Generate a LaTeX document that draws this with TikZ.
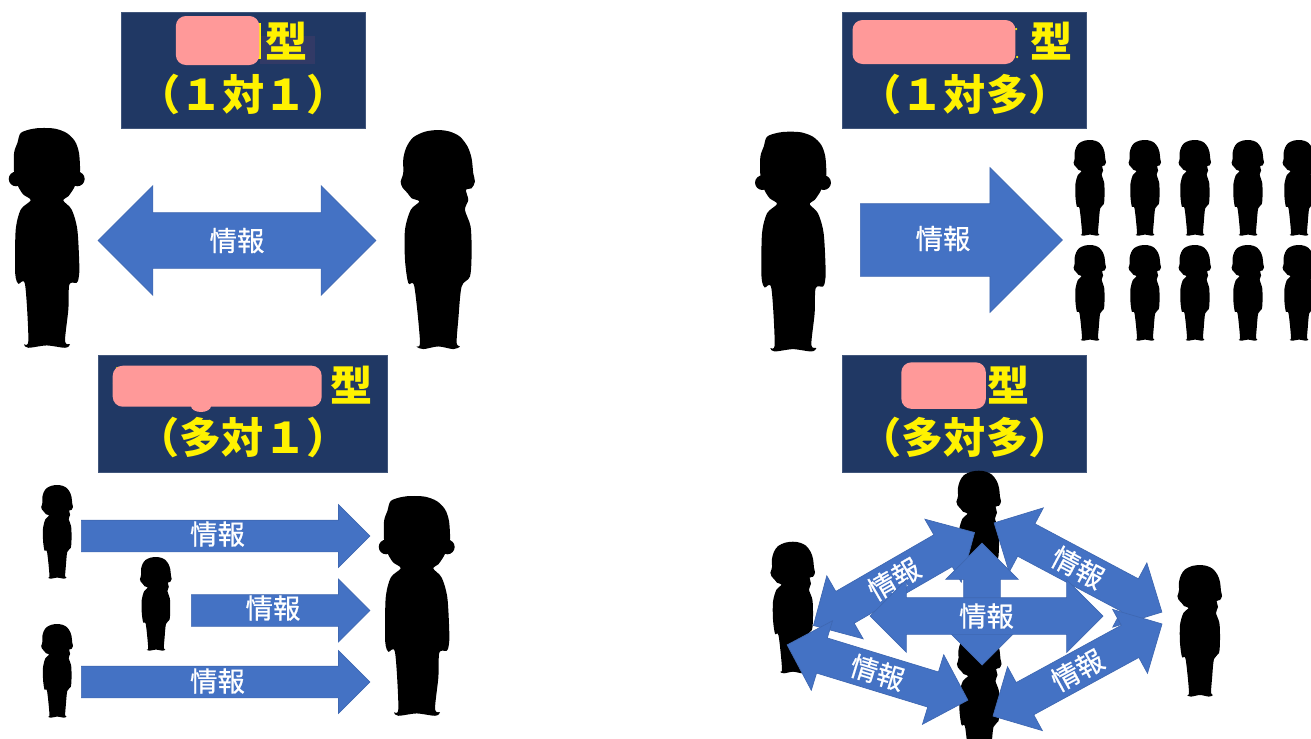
\documentclass[tikz,border=0pt]{standalone}
\usepackage{fontspec}
\usepackage{xcolor}
\usepackage{tikz}
\usetikzlibrary{positioning,shapes}
\newfontfamily\jpfont[FakeBold=0.7]{Noto Sans CJK JP}
\newfontfamily\jptitle{Noto Sans CJK JP}

\definecolor{titlenavy}{HTML}{203864}
\definecolor{flowblue}{HTML}{4472C4}
\definecolor{flowedge}{HTML}{3F68B2}
\definecolor{redactpink}{HTML}{FF9999}
\definecolor{patchnavy}{HTML}{323A66}

\newcommand{\flowlabel}{\raisebox{-0.38em}[0pt][0pt]{情報}}

\tikzset{
  titlebox/.style = {fill = titlenavy, draw = titlenavy!85!white, line width = 0.3pt, inner sep = 0pt},
  titletext/.style = {text = yellow, inner sep = 0pt, font = \jptitle\bfseries\fontsize{24}{24}\selectfont},
  redact/.style = {fill = redactpink, rounded corners = 0.2cm, inner sep = 0pt},
  speck/.style = {fill = yellow, circle, minimum size = 0.05cm, inner sep = 0pt},
  flowtext/.style = {text = white, inner sep = 0pt, font = \jpfont\fontsize{15.6}{16}\selectfont},
  oneway/.style = {single arrow, anchor = tail, fill = flowblue, draw = flowedge, line width = 0.4pt, inner sep = 0pt},
  twoway/.style = {double arrow, fill = flowblue, draw = flowedge, line width = 0.4pt, inner sep = 0pt, text = white, font = \jpfont\fontsize{15.6}{16}\selectfont},
  bigway/.style = {twoway, minimum width = 1.44cm, double arrow head extend = 0.36cm, inner ysep = 0.36cm},
  smallway/.style = {oneway, minimum width = 1.24cm, single arrow head extend = 0.31cm, inner ysep = 0.31cm},
  pics/frontman/.style = {code = {
    \fill[black] (-92,153) circle (22);
    \fill[black] (92,153) circle (22);
    \fill[black] plot[smooth cycle, tension = 0.5] coordinates {
      (-15,0) (25,2) (60,15) (85,40) (97,75) (100,130) (92,155) (82,180) (65,205) (50,218)
      (75,245) (92,305) (98,415) (96,450) (90,465) (68,470) (65,545) (55,640) (70,650) (55,660) (0,653)
      (-55,660) (-68,650) (-55,637) (-65,470) (-85,468) (-93,450) (-95,415) (-93,305) (-78,245) (-48,217)
      (-70,200) (-85,177) (-92,155) (-98,133) (-98,75) (-88,45) (-78,15) (-45,3)
    };
  }},
  pics/sideman/.style = {code = {
    \fill[black] plot[smooth cycle, tension = 0.5] coordinates {
      (0,0) (35,5) (65,20) (88,50) (100,85) (105,130) (110,155) (100,175) (83,180) (90,210) (80,240) (97,290)
      (100,370) (95,440) (70,470) (60,570) (55,640) (65,650) (45,658) (0,650) (-45,658) (-65,650)
      (-55,635) (-72,470) (-90,460) (-100,390) (-100,300) (-83,240) (-57,215) (-80,205) (-92,190)
      (-108,172) (-113,155) (-108,140) (-105,125) (-105,85) (-95,50) (-75,22) (-40,5)
    };
  }}
}

\begin{document}
\begin{tikzpicture}[x = 0.02cm, y = -0.02cm]
  \useasboundingbox (0, 0) rectangle (1311, 738);

  \node[titlebox, minimum width = 4.87cm, minimum height = 2.33cm] (box1) at (243.2, 70.4){};
  \node[titlebox, minimum width = 4.88cm, minimum height = 2.33cm] (box2) at (964.3, 70.4){};
  \node[titlebox, minimum width = 5.78cm, minimum height = 2.35cm] (box3) at (242.8, 414){};
  \node[titlebox, minimum width = 4.88cm, minimum height = 2.35cm] (box4) at (964.3, 414){};

  \node[fill = patchnavy, minimum width = 1.1cm, minimum height = 0.56cm, inner sep = 0pt] (patch1) at (287.5, 50){};

  \node[titletext] (kind1) at (286.3, 41){型};
  \node[titletext] (kind2) at (1052, 41){型};
  \node[titletext] (kind3) at (352, 385){型};
  \node[titletext] (kind4) at (1008.3, 385){型};

  \node[titletext] (ratio1) at (243.5, 94){（１対１）};
  \node[titletext] (ratio2) at (965, 94){（１対多）};
  \node[titletext] (ratio3) at (243, 437){（多対１）};
  \node[titletext] (ratio4) at (965, 437){（多対多）};

  \node[fill = yellow, minimum width = 0.07cm, minimum height = 0.72cm, inner sep = 0pt] (sliver1) at (259.5, 41){};
  \node[speck] (speck1) at (1016, 29){};
  \node[speck] (speck2) at (1017, 57){};
  \node[speck] (speck3) at (117, 368){};
  \node[speck] (speck4) at (114, 383){};
  \node[redact, minimum width = 1.67cm, minimum height = 0.98cm] (hide1) at (217.6, 40.5){};
  \node[redact, minimum width = 3.26cm, minimum height = 0.88cm] (hide2) at (934, 42){};
  \node[redact, minimum width = 4.18cm, minimum height = 0.82cm] (hide3) at (217.2, 386.2){};
  \node[fill = redactpink, ellipse, minimum width = 0.4cm, minimum height = 0.24cm, inner sep = 0pt] (hidebump) at (201, 406){};
  \node[redact, minimum width = 1.69cm, minimum height = 0.93cm] (hide4) at (943.6, 385.6){};

  \pic[scale = 0.333] (talker) at (46.7, 128) {frontman};
  \pic[scale = 0.333] (listener) at (438.3, 130) {sideman};

  \node[twoway, minimum width = 2.18cm, minimum height = 5.56cm, double arrow head extend = 0.54cm, inner ysep = 0.55cm] (flow1) at (237, 240.5){\flowlabel};

  \pic[scale = 0.333] (sender) at (793, 131.7) {frontman};
  \foreach \px in {1090, 1145, 1195, 1248, 1299} {
    \pic[scale = 0.1455] (crowdtop\px) at (\px, 140) {sideman};
    \pic[scale = 0.1455] (crowdlow\px) at (\px, 245) {sideman};
  }

  \node[oneway, minimum width = 2.88cm, minimum height = 4.04cm, single arrow head extend = 0.72cm, inner ysep = 0.72cm] (flow2) at (860, 240){};
  \node[flowtext] (flowtext2) at (943, 238.5){情報};

  \pic[scale = 0.1424] (fan1) at (57.3, 485) {sideman};
  \pic[scale = 0.1424] (fan2) at (156, 557) {sideman};
  \pic[scale = 0.1424] (fan3) at (57.3, 624) {sideman};
  \pic[scale = 0.333] (receiver) at (416.7, 496) {frontman};

  \node[smallway, minimum height = 5.77cm] (flow3) at (81, 536){};
  \node[smallway, minimum height = 3.57cm] (flow4) at (191, 610.5){};
  \node[smallway, minimum height = 5.77cm] (flow5) at (81, 682){};
  \node[flowtext] (flowtext3) at (217.5, 534){情報};
  \node[flowtext] (flowtext4) at (273, 608){情報};
  \node[flowtext] (flowtext5) at (217.5, 681){情報};

  \pic[scale = 0.2] (peertop) at (979, 470.7) {sideman};
  \pic[scale = 0.2] (peerleft) at (793, 541.7) {sideman};
  \pic[scale = 0.2] (peerright) at (1200, 565) {sideman};
  \pic[scale = 0.2] (peerlow) at (979.5, 633) {sideman};

  \node[bigway, minimum height = 3.72cm, rotate = 30] (link1) at (894, 579){\flowlabel};
  \node[bigway, minimum height = 3.8cm, rotate = -28] (link2) at (1078, 567.5){\flowlabel};
  \node[bigway, minimum height = 3.85cm, rotate = 28.6] (link3) at (1077.5, 670){\flowlabel};
  \node[bigway, minimum height = 3.78cm, rotate = -17] (link4) at (877.5, 672.5){\flowlabel};
  \node[bigway, minimum height = 2.44cm, rotate = 90] (linkup) at (982, 604){};
  \node[bigway, minimum height = 4.66cm] (linkside) at (986.5, 616){\flowlabel};
\end{tikzpicture}
\end{document}
